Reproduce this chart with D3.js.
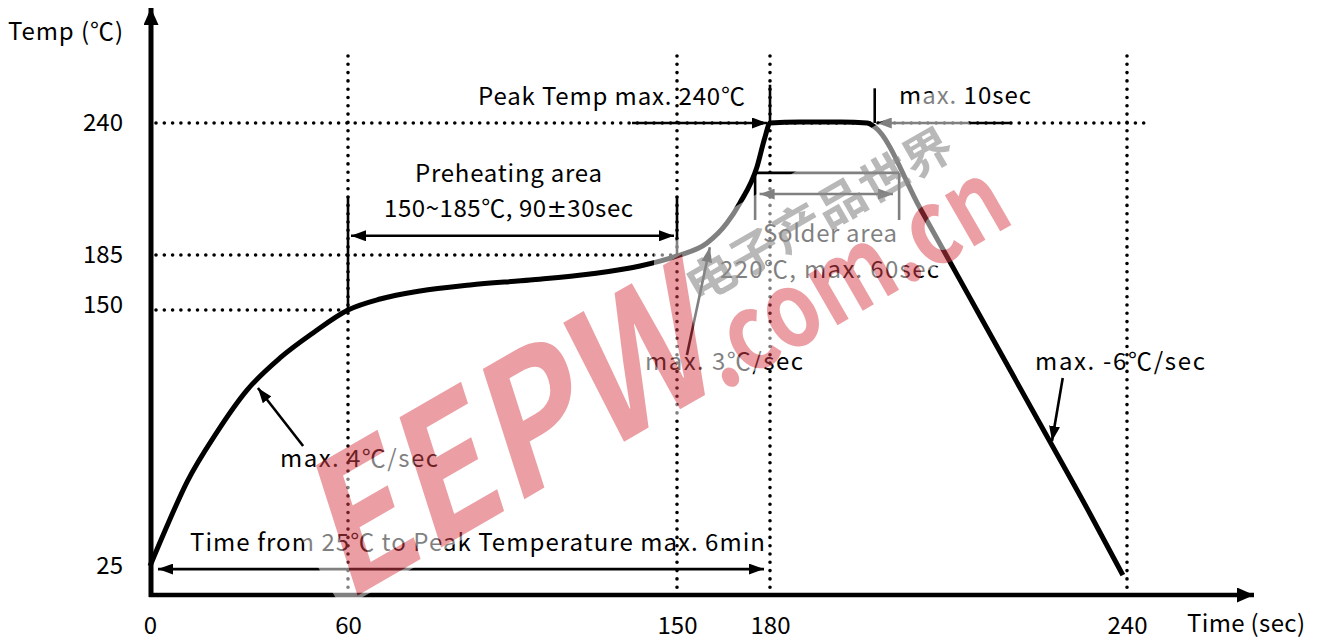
<!DOCTYPE html>
<html><head><meta charset="utf-8">
<script src="https://cdn.jsdelivr.net/npm/d3@7"></script>
<style>
body{margin:0;background:#fff}
text{font-family:"Noto Sans CJK KR","Noto Sans",sans-serif;fill:#000}
</style>
</head><body>
<svg id="c" width="1322" height="641"></svg>
<script>
// ---------- data ----------
const xTicks = [0, 60, 150, 180, 240];
const yTicks = [25, 150, 185, 240];
const profileTime = [0, 4.5, 11.2, 20.3, 29.4, 39.4, 49.4, 60, 68.8, 79.7, 93.4, 109.8, 126.2, 139.9, 150, 159.7, 166.1, 170.3, 175.8, 178.4, 180, 185, 192, 196.3, 197.6, 205.2, 215.3, 225.4, 233.8, 239.3];
const profileTemp = [25, 42.1, 66.0, 90.4, 110.9, 126.6, 138.8, 150, 157, 162.1, 165.9, 169.1, 172.9, 178, 184.4, 190, 198.3, 206.7, 221.7, 234.2, 240, 240.4, 240.4, 240, 238.3, 204.6, 147.1, 94.3, 50.4, 20.6];
const guideTimes = [60, 150, 180, 240];
const guideTemps = [240, 185, 150];
const yLabel = "Temp (℃)";
const xLabel = "Time (sec)";
const noteTexts = ["Peak Temp max. 240℃", "max. 10sec", "Preheating area", "150~185℃, 90±30sec",
  "Solder area", "220℃, max. 60sec", "max. 3℃/sec", "max. -6℃/sec", "max. 4℃/sec",
  "Time from 25℃ to Peak Temperature max. 6min"];
const wmMain = "EEPW", wmSub = ".com.cn", wmCn = "电子产品世界";

// ---------- scales ----------
const svg = d3.select("#c");
const x = d3.scaleLinear().domain([0, 60, 150, 180, 240]).range([150, 348, 677, 770, 1127]);
const y = d3.scaleLinear().domain([11, 25, 150, 185, 240, 268]).range([595, 566, 310, 255, 123, 56]);

const defs = svg.append("defs");
function marker(id, len, hw) {
  defs.append("marker").attr("id", id).attr("markerUnits", "userSpaceOnUse")
    .attr("viewBox", `0 ${-hw} ${len} ${2*hw}`).attr("refX", len).attr("refY", 0)
    .attr("markerWidth", len).attr("markerHeight", 2*hw).attr("orient", "auto-start-reverse")
    .append("path").attr("d", `M0,${-hw}L${len},0L0,${hw}Z`).attr("fill", "#000");
}
marker("ar", 15, 5.5);
marker("ax", 17, 7.5);

const g = svg.append("g");

// dotted guides
const dot = sel => sel.attr("stroke", "#000").attr("stroke-width", 3.6)
  .attr("stroke-linecap", "round").attr("stroke-dasharray", "0,8.3");
g.selectAll(".vg").data(guideTimes).join("line")
  .attr("x1", d => x(d)).attr("x2", d => x(d)).attr("y1", y(268)).attr("y2", y(11)).call(dot);
const hEnd = {240: x(240) + 22, 185: x(150), 150: x(60)};
g.selectAll(".hg").data(guideTemps).join("line")
  .attr("x1", x(0) + 6).attr("x2", d => hEnd[d]).attr("y1", d => y(d)).attr("y2", d => y(d)).call(dot);

// solid helper lines
function seg(t1, T1, t2, T2, w = 2.6) {
  return g.append("line").attr("x1", x(t1)).attr("y1", y(T1)).attr("x2", x(t2)).attr("y2", y(T2))
    .attr("stroke", "#000").attr("stroke-width", w);
}
seg(60, 150, 60, 209.5);
seg(150, 185, 150, 209.5);
seg(180, 240, 180, 256);
seg(197.6, 240, 197.6, 254.5);
seg(175.2, 219.2, 175.2, 199.6);
seg(201.7, 219.2, 201.7, 199.6);
seg(175.2, 219.2, 201.7, 219.2);

// arrows
function arrow(t1, T1, t2, T2, both = false, dx1 = 0, dx2 = 0) {
  const l = g.append("line").attr("x1", x(t1) + dx1).attr("y1", y(T1)).attr("x2", x(t2) + dx2).attr("y2", y(T2))
    .attr("stroke", "#000").attr("stroke-width", 2.6).attr("marker-end", "url(#ar)");
  if (both) l.attr("marker-start", "url(#ar)");
  return l;
}
arrow(137.7, 240, 180, 240, false, 0, -3);
arrow(220.7, 240, 197.6, 240, false, 0, 2);
arrow(60, 193, 150, 193, true, 3, -3);
arrow(176, 210.4, 201, 210.4, true, 2, -2);
arrow(0, 23.5, 180, 23.5, true, 8, -6);
arrow(46.4, 83.6, 32.7, 111.9);
arrow(153.2, 128, 160.6, 188.2);
arrow(229.2, 116.8, 227.4, 86);

// profile curve
const pts = profileTime.map((t, i) => ({t, T: profileTemp[i]}));
g.append("path").datum(pts)
  .attr("d", d3.line().x(d => x(d.t)).y(d => y(d.T)).curve(d3.curveMonotoneX))
  .attr("fill", "none").attr("stroke", "#000").attr("stroke-width", 5).attr("stroke-linejoin", "round");

// axes lines with arrows
g.append("line").attr("x1", x(0) + 1).attr("x2", x(0) + 1).attr("y1", y(11) + 2).attr("y2", 8)
  .attr("stroke", "#000").attr("stroke-width", 5).attr("marker-end", "url(#ax)");
g.append("line").attr("x1", x(0) - 1).attr("x2", 1254).attr("y1", y(11)).attr("y2", y(11))
  .attr("stroke", "#000").attr("stroke-width", 4.5).attr("marker-end", "url(#ax)");

// tick labels via axes
const xa = g.append("g").attr("transform", `translate(0,${y(11)})`)
  .call(d3.axisBottom(x).tickValues(xTicks).tickSize(0).tickPadding(22));
const ya = g.append("g").attr("transform", `translate(${x(0) + 1},0)`)
  .call(d3.axisLeft(y).tickValues(yTicks).tickSize(0).tickPadding(28));
[xa, ya].forEach(a => {
  a.select(".domain").remove();
  a.selectAll("text").attr("font-size", 24).attr("font-family", '"Noto Sans CJK KR",sans-serif').attr("fill", "#000");
});
ya.selectAll("text").filter(d => d === 150).attr("dy", "0.1em");

// axis titles
g.append("text").attr("x", 8).attr("y", 40).attr("font-size", 24)
  .attr("textLength", 115).attr("lengthAdjust", "spacing").text(yLabel);
g.append("text").attr("x", 1187).attr("y", 632).attr("font-size", 24)
  .attr("textLength", 118).attr("lengthAdjust", "spacing").text(xLabel);

// annotations (x, baseline, width)
const notePos = [
  [478, 105, 267], [899, 104, 132], [415, 182, 187], [384, 217, 249],
  [763, 242, 134], [720, 278, 219], [645, 370, 158], [1035, 370, 170],
  [280, 467, 158], [190, 551, 575]
];
g.selectAll(".note").data(noteTexts).join("text")
  .attr("x", (d, i) => notePos[i][0]).attr("y", (d, i) => notePos[i][1])
  .attr("font-size", 24).attr("textLength", (d, i) => notePos[i][2]).attr("lengthAdjust", "spacing")
  .each(function (d) {
    const parts = d.split("±");
    const t = d3.select(this);
    parts.forEach((p, k) => {
      if (k > 0) t.append("tspan").style("font-family", '"DejaVu Sans",sans-serif').text("±");
      t.append("tspan").text(p);
    });
  });

// ---------- watermark ----------
const WM = "translate(860,310) rotate(-30)";
const wmFont = '"Liberation Sans",Arial,sans-serif';
function wmTexts(sel, fill) {
  sel.append("text").attr("x", -592).attr("y", -4).attr("font-size", 180).attr("font-weight", "bold")
    .attr("font-style", "italic").attr("font-family", wmFont).attr("textLength", 440)
    .attr("lengthAdjust", "spacingAndGlyphs").style("fill", fill).text(wmMain);
  sel.append("text").attr("x", -160).attr("y", 2).attr("font-size", 105).attr("font-weight", "bold")
    .attr("font-family", wmFont).attr("textLength", 340)
    .attr("lengthAdjust", "spacingAndGlyphs").style("fill", fill).text(wmSub);
}
const mask = defs.append("mask").attr("id", "bandMask").attr("maskUnits", "userSpaceOnUse")
  .attr("x", 0).attr("y", 0).attr("width", 1322).attr("height", 641);
mask.append("rect").attr("width", 1322).attr("height", 641).attr("fill", "#fff");
wmTexts(mask.append("g").attr("transform", WM), "#000");

const band = svg.append("g").attr("mask", "url(#bandMask)")
  .append("g").attr("transform", WM);
band.append("path").attr("d", "M-598,0L188,0L188,-152L-150,-152L-170,-118L-598,-118Z")
  .attr("fill", "#fff").attr("opacity", 0.5);

const wm = svg.append("g").attr("transform", WM);
wmTexts(wm.append("g").attr("opacity", 0.5), "#d8404a");
wm.append("text").attr("x", -138).attr("y", -86).attr("font-size", 46).attr("font-weight", "bold")
  .attr("font-family", '"Noto Sans CJK SC",sans-serif').attr("textLength", 300)
  .attr("lengthAdjust", "spacingAndGlyphs").style("fill", "#8a8a8a").attr("opacity", 0.6).text(wmCn);
</script>
</body></html>
